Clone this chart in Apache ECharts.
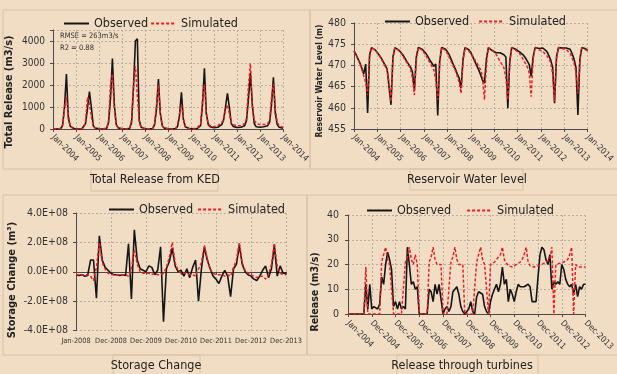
<!DOCTYPE html>
<html><head><meta charset="utf-8">
<script src="https://cdn.jsdelivr.net/npm/echarts@6/dist/echarts.min.js"></script>
<style>html,body{margin:0;padding:0;background:#f1ddc4;}#c{width:617px;height:374px;}</style>
</head><body><div id="c"></div>
<script>
const FONT = '"DejaVu Sans Condensed","DejaVu Sans",sans-serif';

// ---------- Panel 1: Total Release from KED (monthly, Jan-2004 .. Jan-2014) ----------
const releaseTicks = ['Jan-2004','Jan-2005','Jan-2006','Jan-2007','Jan-2008','Jan-2009','Jan-2010','Jan-2011','Jan-2012','Jan-2013','Jan-2014'];
const releaseObs = [
  0,0,0,0,20,150,1000,2500,500,120,40,20,
  10,0,0,0,20,250,950,1700,1000,150,40,20,
  10,0,0,0,30,300,1400,3200,1100,200,50,20,
  10,0,0,0,30,300,1900,4000,4100,400,80,20,
  10,0,0,0,20,200,900,2270,700,150,40,20,
  10,0,0,0,20,120,600,1670,450,100,40,20,
  10,10,10,10,30,150,1100,2760,700,200,100,60,
  60,60,80,120,200,400,1000,1620,1000,250,120,80,
  70,70,80,100,150,400,1400,2550,1100,250,100,80,
  80,80,100,120,150,300,1100,2350,700,200,80,60,
  40];
const releaseSim = [
  0,0,0,0,20,200,900,1450,650,150,50,20,
  10,0,0,0,30,350,1450,1200,550,150,40,20,
  10,0,0,0,30,400,2000,2500,900,200,60,20,
  10,0,0,0,30,400,2000,2850,1500,300,60,20,
  10,0,0,0,20,250,1100,2000,700,150,40,20,
  10,0,0,0,20,200,700,1100,450,100,30,20,
  20,20,20,20,50,250,1300,2030,700,250,150,100,
  100,100,150,200,300,400,900,1100,700,300,200,150,
  150,150,150,200,250,500,2000,2980,1000,400,250,200,
  200,200,200,200,250,400,1400,2050,900,300,150,100,
  80];

// ---------- Panel 2: Reservoir Water level (m) ----------
const levelTicks = releaseTicks;
const levelObs = [
  473.4,472.6,471.6,470.6,469.4,468.0,470.3,458.8,472.5,474.2,474.0,473.6,
  473.0,472.4,471.7,470.9,470.0,469.2,468.8,460.7,472.0,474.2,474.0,473.6,
  473.1,472.5,471.8,471.0,470.3,469.6,468.5,464.2,472.0,474.2,474.1,473.8,
  473.5,472.8,472.0,471.2,470.5,469.8,470.3,458.2,471.0,474.2,474.1,473.8,
  473.2,472.4,471.3,470.2,469.2,468.0,467.0,464.6,471.5,474.2,474.0,473.7,
  473.0,472.0,471.0,470.0,469.0,467.8,466.5,465.8,471.5,474.2,474.0,473.5,
  473.2,473.0,473.3,473.0,472.7,472.5,472.0,459.9,471.0,474.2,474.1,473.8,
  473.4,473.2,472.9,472.4,471.8,471.0,470.2,467.4,472.0,474.2,474.2,474.0,
  474.0,474.1,474.0,473.3,472.4,471.3,469.6,461.1,472.0,474.2,474.2,474.1,
  474.1,474.1,474.0,473.8,472.8,471.5,469.5,458.3,471.5,474.2,474.2,473.9,
  473.5];
const levelSim = [
  473.4,472.5,471.5,470.4,469.2,467.5,466.0,463.0,472.0,474.2,474.0,473.5,
  472.9,472.3,471.5,470.7,469.8,469.0,466.0,461.5,471.5,474.2,474.0,473.5,
  473.0,472.3,471.5,470.8,470.0,469.3,467.0,463.0,471.0,474.2,474.0,473.6,
  473.2,472.3,471.4,470.6,469.8,469.0,466.5,461.9,470.5,474.2,474.0,473.5,
  472.8,471.8,470.8,469.8,468.8,467.5,466.0,463.4,471.0,474.2,473.9,473.4,
  473.0,472.2,471.4,470.6,469.8,469.0,467.5,461.9,470.0,474.2,474.0,473.6,
  473.2,472.6,471.8,471.0,470.2,469.4,467.0,461.9,470.5,474.2,474.0,473.6,
  473.3,472.8,472.1,471.3,470.5,469.6,468.2,462.6,471.5,474.2,474.0,473.7,
  473.5,473.3,472.9,472.3,471.6,470.7,468.0,461.5,471.5,474.2,474.1,473.9,
  473.9,473.8,473.4,472.8,471.8,470.5,468.5,463.4,471.0,474.2,474.1,473.7,
  473.2];

// ---------- Panel 3: Storage Change (x 1E+08 m3, monthly Jan-2008 .. Dec-2013) ----------
const storageTicks = ['Jan-2008','Dec-2008','Dec-2009','Dec-2010','Dec-2011','Dec-2012','Dec-2013'];
const storageObs = [
  -0.2,-0.25,-0.2,-0.3,-0.25,0.8,0.8,-1.8,2.45,0.8,0.3,0.1,
  -0.1,-0.2,-0.2,-0.25,-0.2,-0.25,1.9,-1.85,2.85,0.8,0.2,0.1,
  0.0,0.4,0.3,-0.2,0.1,1.7,-3.4,0.2,0.7,1.6,0.4,0.0,
  0.1,-0.3,0.2,-0.4,0.3,0.8,-2.0,0.2,1.7,0.8,0.2,-0.3,
  -0.5,-0.8,-0.3,0.1,-0.3,-1.7,0.2,0.5,1.8,0.5,0.0,-0.2,
  -0.3,-0.5,-0.6,-0.3,0.1,0.4,-0.4,0.2,1.8,-0.3,0.4,-0.1,
  -0.1];
const storageSim = [
  -0.2,-0.2,-0.2,-0.2,-0.2,-0.3,-0.6,0.3,2.0,0.6,0.2,-0.1,
  -0.2,-0.2,-0.2,-0.2,-0.2,-0.2,-0.3,0.2,1.5,0.5,0.0,-0.1,
  -0.1,-0.1,-0.2,-0.1,-0.2,-0.2,-0.1,0.3,1.0,2.0,0.6,0.1,
  -0.1,-0.1,-0.1,-0.2,-0.2,-0.3,0.2,0.6,1.8,0.9,0.2,-0.1,
  -0.2,-0.2,-0.2,-0.3,-0.2,-0.3,0.3,0.8,2.0,0.6,0.1,-0.1,
  -0.2,-0.3,-0.4,-0.3,-0.3,-0.5,-0.2,0.5,1.95,0.4,-0.1,-0.2,
  -0.2];

// ---------- Panel 4: Release through turbines (m3/s) ----------
const turbineTicks = ['Jan-2004','Dec-2004','Dec-2005','Dec-2006','Dec-2007','Dec-2008','Dec-2009','Dec-2010','Dec-2011','Dec-2012','Dec-2013'];
const turbineObs = [
  0,0,0,0,0,0,0,0,0,12,2,12,
  2,3,3,2,4,15,12,20,25,22,18,3,
  5,2,5,2,3,2,27,20,12,13,10,11,
  0,0,0,0,0,10,9,5,12,8,12,6,
  0,2,3,1,3,9,10,11,8,3,1,0,
  1,2,5,1,0,7,9,9,8,3,1,0,
  5,8,10,12,9,12,19,12,14,5,10,8,
  5,9,12,11,11,11,11,12,11,5,5,5,
  15,24,27,26,22,20,24,10,13,12,13,12,
  20,18,14,12,11,12,8,12,7,11,10,12,
  12];
const turbineSim = [
  0,0,0,0,0,0,0,0,0,19,0,0,
  0,0,0,0,0,21,24,27,22,20,20,0,
  0,0,0,0,0,21,23,27,22,20,24,20,
  0,0,0,0,0,21,23,27,22,20,20,20,
  0,0,0,0,21,23,27,22,20,20,20,0,
  0,0,0,0,0,21,24,27,22,20,20,0,
  20,20.5,21,22,23,24,27,22,20.5,19.5,19,19,
  19.5,20,20.5,21,22,24,27,21,19.5,19,19,19,
  19.5,20,20,20.5,21,21.5,22,27,0,20,20,20.5,
  20.5,21,21.5,22,24,27,0,20,19,19,19,19,
  19];

// ---------- helpers ----------
function cats(ticks, n) {
  const a = [];
  for (let i = 0; i < n; i++) a.push(i % 12 === 0 ? ticks[i / 12] : '');
  return a;
}
const AX = '#4a4a4a';
const GRIDC = '#b9afa2';
function xAxis(gi, ticks, n, rotate, fs, margin) {
  return {
    type: 'category', gridIndex: gi, data: cats(ticks, n), boundaryGap: false,
    axisLine: { lineStyle: { color: AX, width: 1 } },
    axisTick: { show: true, interval: 11, length: 3, lineStyle: { color: AX } },
    axisLabel: { interval: 11, rotate: rotate, fontSize: fs, color: '#333', fontFamily: FONT, margin: margin, hideOverlap: false },
    splitLine: { show: true, interval: 11, lineStyle: { color: GRIDC, type: [2, 2], width: 1 } }
  };
}
function yAxis(gi, min, max, interval, fs, fmt, margin) {
  return {
    type: 'value', gridIndex: gi, min: min, max: max, interval: interval,
    axisLine: { show: true, lineStyle: { color: AX, width: 1 } },
    axisTick: { show: true, length: 3, lineStyle: { color: AX } },
    axisLabel: { fontSize: fs, color: '#333', fontFamily: FONT, margin: margin, formatter: fmt, showMaxLabel: true },
    splitLine: { show: true, lineStyle: { color: GRIDC, type: [2, 2], width: 1 } }
  };
}
function obs(name, gi, data) {
  return { name: 'Observed', type: 'line', xAxisIndex: gi, yAxisIndex: gi, data: data, symbol: 'none',
    lineStyle: { color: '#151515', width: 1.6 }, itemStyle: { color: '#151515' }, z: 2 };
}
function sim(name, gi, data) {
  return { name: 'Simulated', type: 'line', xAxisIndex: gi, yAxisIndex: gi, data: data, symbol: 'none',
    lineStyle: { color: '#ec1c24', width: 1.5, type: [3, 2] }, itemStyle: { color: '#ec1c24' }, z: 3 };
}
function legend(left, top, gap) {
  return { left: left, top: top, itemWidth: 25, itemHeight: 12, itemGap: gap,
    data: ['Observed', 'Simulated'],
    itemStyle: { opacity: 0, color: 'rgba(0,0,0,0)', borderWidth: 0 },
    lineStyle: { width: 2 },
    textStyle: { fontSize: 12.5, color: '#222', fontFamily: FONT } };
}
const BORDER = '#d8c2a6';
function box(x, y, w, h) {
  return { type: 'rect', shape: { x: x, y: y, width: w, height: h }, silent: true,
    style: { fill: 'none', stroke: BORDER, lineWidth: 1 } };
}
function label(x, y, text, size, bold, rot) {
  return { type: 'text', x: x, y: y, rotation: rot || 0, silent: true,
    style: { text: text, align: 'center', verticalAlign: 'middle', textAlign: 'center', textVerticalAlign: 'middle',
      font: (bold ? 'bold ' : '') + size + 'px ' + FONT, fill: '#222' } };
}

const chart = echarts.init(document.getElementById('c'), null, { renderer: 'canvas' });
chart.setOption({
  animation: false,
  backgroundColor: '#f1ddc4',
  grid: [
    { left: 53, top: 30, width: 230, height: 99 },
    { left: 354, top: 23, width: 242, height: 106 },
    { left: 76, top: 213, width: 210, height: 117.5 },
    { left: 348, top: 215, width: 247, height: 99 }
  ],
  xAxis: [
    xAxis(0, releaseTicks, 121, -45, 8.5, 7),
    xAxis(1, levelTicks, 121, -45, 8.5, 7),
    xAxis(2, storageTicks, 73, 0, 7.3, 7),
    xAxis(3, turbineTicks, 121, -45, 8.5, 8)
  ],
  yAxis: [
    yAxis(0, 0, 4500, 1000, 10, v => (v % 1000 === 0 ? String(v) : ''), 8),
    yAxis(1, 455, 480, 5, 10.5, v => String(v), 8),
    yAxis(2, -4e8, 4e8, 2e8, 10.5, v => (v < 0 ? '-' : '') + (Math.abs(v) / 1e8).toFixed(1) + (v === 0 ? 'E+00' : 'E+08'), 8),
    yAxis(3, 0, 40, 10, 10.5, v => String(v), 9)
  ],
  legend: [ legend(58, 12, 2), legend(379, 10, 9), legend(103, 198, 4), legend(361, 199, 15) ],
  series: [
    obs('o1', 0, releaseObs), sim('s1', 0, releaseSim),
    obs('o2', 1, levelObs), sim('s2', 1, levelSim),
    obs('o3', 2, storageObs.map(v => v * 1e8)), sim('s3', 2, storageSim.map(v => v * 1e8)),
    obs('o4', 3, turbineObs), sim('s4', 3, turbineSim)
  ],
  graphic: [
    box(3, 10, 307, 159), box(310, 10, 310, 159),
    box(91, 169, 127, 22), box(410, 169, 113, 21),
    box(3, 195, 304, 160), box(307, 195, 313, 160),
    box(113, 355, 87, 25), box(397, 355, 141, 25),
    label(155, 180, 'Total Release from KED', 12.5, false),
    label(467, 180, 'Reservoir Water level', 12.5, false),
    label(156, 366, 'Storage Change', 12.5, false),
    label(462, 366, 'Release through turbines', 12.5, false),
    label(9.5, 92, 'Total Release (m3/s)', 11, true, Math.PI / 2),
    label(320, 81, 'Reservoir Water Level (m)', 8.5, true, Math.PI / 2),
    label(12, 280, 'Storage Change (m³)', 11, true, Math.PI / 2),
    label(315, 292, 'Release (m3/s)', 10.5, true, Math.PI / 2),
    { type: 'text', x: 60, y: 36, silent: true, style: { text: 'RMSE = 263m3/s', font: '7.5px ' + FONT, fill: '#333', verticalAlign: 'middle', textVerticalAlign: 'middle' } },
    { type: 'text', x: 60, y: 48, silent: true, style: { text: 'R2 = 0.88', font: '7.5px ' + FONT, fill: '#333', verticalAlign: 'middle', textVerticalAlign: 'middle' } }
  ]
});
</script></body></html>
